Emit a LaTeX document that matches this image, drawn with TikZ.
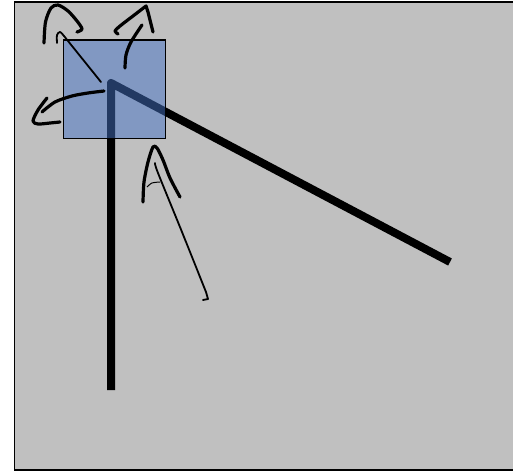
\documentclass[tikz,border=0pt]{standalone}
\usetikzlibrary{calc}
\begin{document}
\begin{tikzpicture}[x=0.75pt,y=-0.75pt,
  ink/.style={line width=3.2pt*0.75,line cap=round,line join=round},
  thinink/.style={line width=1.8pt*0.75,line cap=round,line join=round},
  bar/.style={line width=8pt*0.75,line join=round}]
\useasboundingbox (0,0) rectangle (513,475);
% background panel
\draw[line width=1.2pt,fill={rgb,255:red,192;green,192;blue,192}] (14.5,2) rectangle (560,470);
% thick lines
\coordinate (bot) at (111,390);
\coordinate (corner) at (111,83);
\coordinate (tip) at (450,262);
\draw[bar] (bot) -- (corner) -- (tip);
% translucent square
\draw[line width=1.1pt,fill={rgb,255:red,68;green,114;blue,196},fill opacity=0.5] (63.5,40) rectangle (165.5,138.5);
% ink: upper-left
\draw[ink] plot[smooth] coordinates {(44,43) (45.5,22) (51,8) (58,5) (68,11) (77,21) (82,29) (77,32)};
\draw[thinink] plot[smooth] coordinates {(57,43) (57,35) (60,32) (64,36)} -- (101,82);
% ink: upper-right
\draw[ink] plot[smooth] coordinates {(125,68) (126,55) (131,42) (142,25)};
\draw[ink] plot[smooth] coordinates {(118,34) (115,31) (120,26) (133,16) (146,6)} -- (148,12) -- (153,32);
% ink: left
\draw[ink] plot[smooth] coordinates {(104,91) (88,93) (72,96) (55,102) (42,112)};
\draw[ink] plot[smooth] coordinates {(47,98) (38,110) (33,121) (38,124) (50,123) (60,122)};
% ink: lower
\draw[ink] plot[smooth] coordinates {(143,202) (144,182) (148,162) (153,147) (157,148) (163,160) (170,178) (180,197)};
\draw[thinink] plot[smooth] coordinates {(155,163) (158,173) (182,232) (206,292)} -- (208,299) -- (203,300);
\draw[line width=1pt*0.75] plot[smooth] coordinates {(147,187) (152,183) (160,182)};
\end{tikzpicture}
\end{document}
